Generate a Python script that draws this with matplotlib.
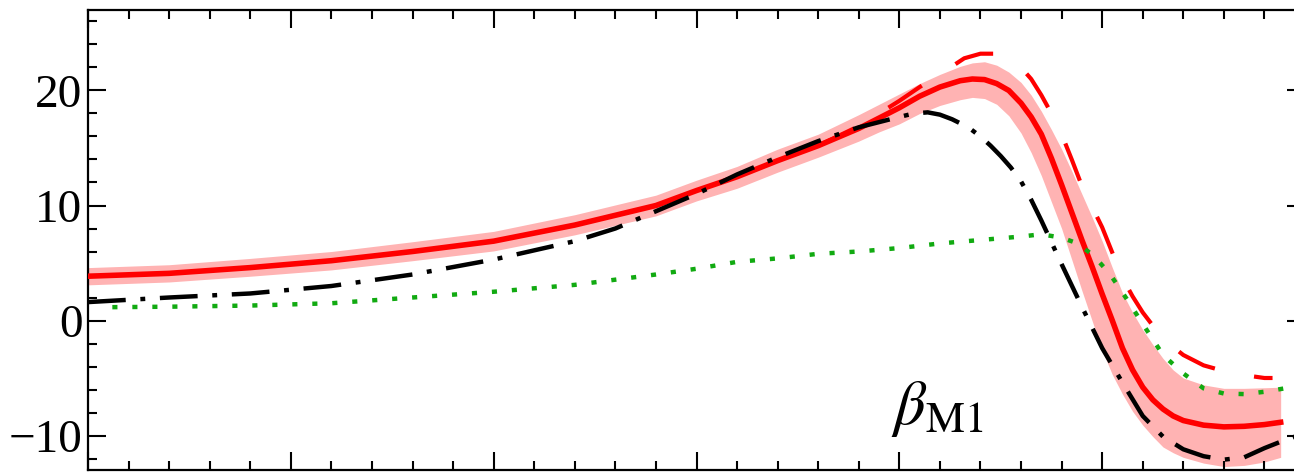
import matplotlib
matplotlib.use("Agg")
import matplotlib.pyplot as plt
from matplotlib.ticker import MultipleLocator, NullFormatter

plt.rcParams['font.family'] = ['Liberation Serif', 'DejaVu Serif']
plt.rcParams['mathtext.fontset'] = 'stix'

# ---- data ----
x_red = [0, 20, 40, 60, 80, 100, 120, 140, 150, 160, 170, 180, 190, 195, 200, 205,
         210, 215, 218, 221, 224, 227, 230, 232.5, 235, 237.5, 240, 242.5, 245, 247.5,
         250, 252.5, 255, 257.5, 260, 262.5, 265, 267.5, 270, 275, 280, 285, 290, 294]
red_center = [3.85, 4.1, 4.6, 5.2, 6.0, 6.9, 8.3, 10.0, 11.3, 12.5, 13.9, 15.2, 16.7,
              17.6, 18.5, 19.5, 20.3, 20.85, 21.0, 20.95, 20.6, 20.0, 18.9, 17.7, 16.2,
              14.1, 11.8, 9.4, 7.0, 4.7, 2.3, 0.0, -2.4, -4.3, -5.8, -6.9, -7.7, -8.3,
              -8.7, -9.1, -9.25, -9.2, -9.05, -8.85]
red_lower = [3.1, 3.35, 3.85, 4.4, 5.2, 6.05, 7.45, 9.1, 10.4, 11.5, 12.9, 14.2, 15.6,
             16.4, 17.1, 18.0, 18.7, 19.2, 19.4, 19.3, 18.8, 17.8, 16.3, 14.6, 12.6,
             10.3, 8.0, 5.3, 2.6, 0.0, -2.6, -4.7, -6.4, -7.9, -9.1, -10.1, -11.0,
             -11.5, -11.9, -12.4, -12.7, -12.6, -12.3, -11.9]
red_upper = [4.6, 4.85, 5.4, 6.0, 6.85, 7.75, 9.2, 10.9, 12.2, 13.4, 14.9, 16.2, 17.9,
             18.8, 19.7, 20.6, 21.4, 22.1, 22.4, 22.5, 22.2, 21.6, 20.7, 19.6, 18.2,
             16.6, 14.9, 13.0, 11.0, 9.0, 6.9, 4.6, 2.4, 0.7, -0.8, -2.1, -3.3, -4.3,
             -5.0, -5.6, -5.9, -5.9, -5.85, -5.8]

x_dash = [180, 190, 200, 205, 210, 213, 216, 220, 224, 227, 230, 232.5, 235, 237.5,
          240, 242.5, 245, 247.5, 250, 252.5, 255, 257.5, 260, 265, 270, 275, 280, 285,
          290, 292]
red_dashed = [15.2, 16.9, 19.1, 20.3, 21.4, 22.1, 22.8, 23.2, 23.2, 22.7, 22.0, 21.0,
              19.6, 18.0, 16.2, 14.0, 11.7, 9.9, 8.1, 5.9, 3.7, 2.1, 0.7, -1.6, -3.0,
              -3.9, -4.4, -4.75, -5.0, -5.0]

x_black = [0, 20, 40, 60, 80, 100, 120, 130, 140, 150, 160, 170, 180, 190, 200, 203.5,
           207, 210, 213, 217, 220, 222.5, 225, 227.5, 230, 232.5, 235, 240, 245, 250,
           255, 260, 265, 270, 275, 280, 285, 290, 295, 300]
black = [1.6, 2.0, 2.35, 3.0, 4.0, 5.3, 6.9, 8.0, 9.5, 11.0, 12.7, 14.2, 15.6, 16.8,
         17.7, 18.0, 18.1, 17.9, 17.5, 16.8, 16.0, 15.2, 14.3, 13.3, 12.1, 10.5, 8.7,
         4.9, 1.2, -2.4, -5.4, -8.3, -10.1, -11.2, -11.8, -12.1, -11.9, -11.1, -10.4,
         -9.8]

x_green = [6, 20, 40, 60, 80, 100, 120, 140, 150, 160, 170, 180, 190, 200, 210, 220,
           230, 235, 240, 244, 248, 252, 256, 260, 265, 270, 275, 280, 285, 290, 295, 300]
green = [1.16, 1.2, 1.3, 1.5, 2.0, 2.5, 3.1, 4.0, 4.5, 5.1, 5.4, 5.8, 6.0, 6.3, 6.7,
         7.0, 7.3, 7.5, 7.2, 6.7, 5.6, 4.0, 1.9, -0.3, -3.0, -4.6, -5.9, -6.35, -6.4,
         -6.2, -5.9, -5.6]

y_ticks = [-10, 0, 10, 20]
label_text = r'$\beta_{\mathrm{M1}}$'

# ---- figure ----
W, H = 1294, 473
fig = plt.figure(figsize=(W / 100, H / 100), dpi=100)
ax = fig.add_axes([88 / W, 3 / H, (1305 - 88) / W, (470 - 10) / H])

ax.fill_between(x_red, red_lower, red_upper, color='#FFB3B3', lw=0, zorder=1)
ax.plot(x_red, red_center, color='#FF0000', lw=4.0, zorder=3,
        solid_joinstyle='round')
ax.plot(x_dash, red_dashed, color='#FF0000', lw=3.0, ls=(0, (9.6, 9.6)), zorder=3)
ax.plot(x_black, black, color='black', lw=3.2, ls=(0, (8.5, 3.3, 1.1, 3.3)), zorder=4)
ax.plot(x_green, green, color='#11AA11', lw=3.2, ls=(0, (1.15, 3.35)), zorder=5)

ax.set_xlim(0, 300)
ax.set_ylim(-13, 27)

ax.xaxis.set_major_locator(MultipleLocator(50))
ax.xaxis.set_minor_locator(MultipleLocator(10))
ax.xaxis.set_major_formatter(NullFormatter())
ax.set_yticks(y_ticks)
ax.yaxis.set_minor_locator(MultipleLocator(2))

ax.tick_params(which='both', direction='in', top=True, right=True, width=1.5,
               labelsize=34, pad=4)
ax.tick_params(which='major', length=13)
ax.tick_params(which='minor', length=6.5)
for s in ax.spines.values():
    s.set_linewidth(1.6)

ax.text(198.0, -9.0, label_text, fontsize=45, ha='left', va='baseline', zorder=6)

fig.savefig('out.png', dpi=100)
